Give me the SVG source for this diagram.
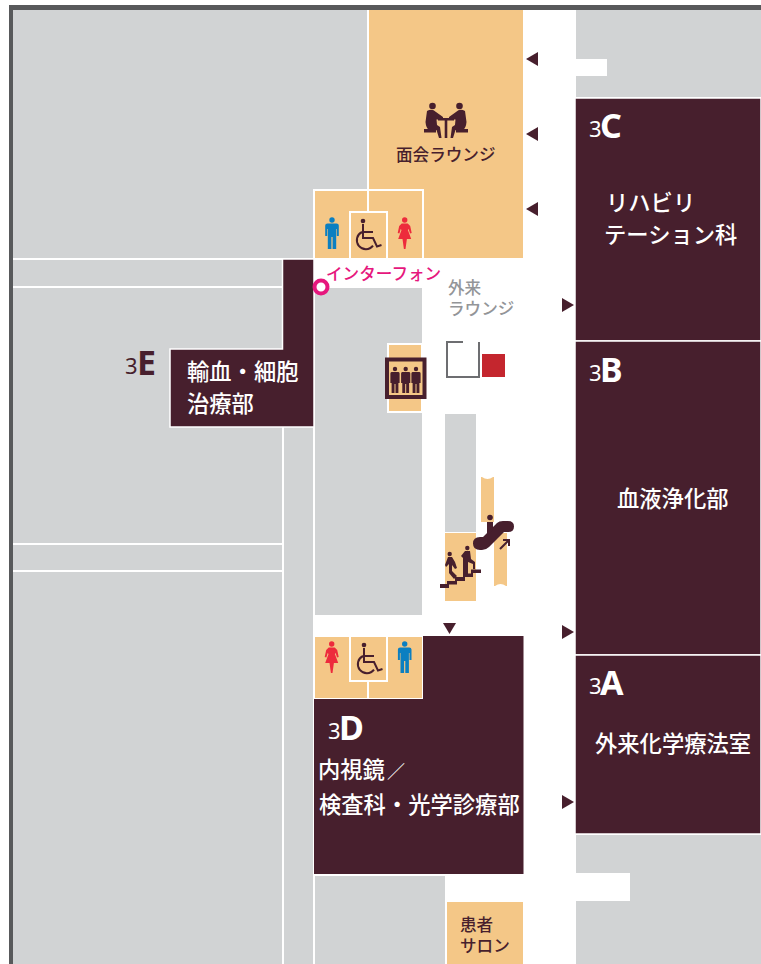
<svg xmlns="http://www.w3.org/2000/svg" width="761" height="964" viewBox="0 0 761 964">
<style>
.g{fill:#d1d3d4}
.o{fill:#f4c787}
.ow{fill:#f4c787;stroke:#fff;stroke-width:2}
.d{fill:#471f2d;stroke:#fff;stroke-width:1.500}
.ink{fill:#471f2d}
.t{font-family:"Noto Sans CJK JP","Noto Sans",sans-serif;font-weight:500}
.w{fill:#fff;font-size:22.300px}
.n{fill:#471f2d;font-size:16.600px}
.b{font-family:"Noto Sans","Liberation Sans",sans-serif;font-weight:700;font-size:34px;fill:#fff}
.s{font-family:"Noto Sans","Liberation Sans",sans-serif;font-size:22px;fill:#fff}
.blue{fill:#0b7fc1}
.red{fill:#ed2b3c}
</style>
<defs>
<g id="man"><circle cx="0" cy="-14" r="2.700"/><path d="M-4.500-10.500H4.500Q6.800-10.500 6.800-8.500V2H4.800V-5H4.200V15H.6V3H-.6V15H-4.200V-5H-4.800V2H-6.800V-8.500Q-6.800-10.500-4.500-10.500Z"/></g>
<g id="woman"><circle cx="0" cy="-14" r="2.700"/><path d="M-3-10.500H3L5.500-8 7-1 5.300-.5 4-5 3.200-4 6.500 5H2.200L.8 15H-.8L-2.200 5H-6.500L-3.200-4-4-5-5.300-.5-7-1-5.500-8Z"/></g>
<g id="wc"><circle cx="-5" cy="-14" r="2.300" fill="#471f2d"/><path d="M-5-11V3H5L9 11.500 13.500 10M-5-3H5" fill="none" stroke="#471f2d" stroke-width="2"/><path d="M-6-3A9 9 0 1 0 5 10.600" fill="none" stroke="#471f2d" stroke-width="2"/></g>
<g id="person"><circle cx="0" cy="-11" r="2.200"/><path d="M-3.500-8H3.500Q4.600-8 4.600-6.500V3H3.400V13H.5V4H-.5V13H-3.400V3H-4.600V-6.500Q-4.600-8-3.500-8Z"/></g>
<path id="tri" d="M0-7L12 0 0 7Z" class="ink"/>
</defs>

<g id="floor">
<rect x="9" y="5" width="752" height="5" fill="#58595b"/>
<rect x="9" y="5" width="4" height="959" fill="#58595b"/>
<rect class="g" x="13" y="10" width="354" height="248"/>
<rect class="g" x="13" y="260" width="269" height="26"/>
<rect class="g" x="13" y="288" width="269" height="255"/>
<rect class="g" x="13" y="545" width="269" height="25"/>
<rect class="g" x="13" y="572" width="269" height="392"/>
<rect class="g" x="284" y="427" width="29" height="537"/>
<rect class="g" x="315" y="288" width="107" height="327"/>
<rect class="g" x="445" y="414" width="31" height="118"/>
<rect class="g" x="315" y="876" width="130" height="88"/>
<path class="g" d="M576 10H761V97H576V76H607V59H576Z"/>
<path class="g" d="M576 835H761V964H576V901H630V873H576Z"/>
</g>

<g id="lounge"><rect class="o" x="369" y="10" width="154" height="248"/>
<g class="ink" id="lounge-icon">
<circle cx="432.500" cy="106" r="3.300"/><circle cx="459.500" cy="106" r="3.300"/>
<path d="M427 111Q432 108 436 112L443 117V119.500H436.500L437 125 440 127 441.500 138H439L436.500 130H429Q426 128 425.500 122Z"/>
<path d="M465 111Q460 108 456 112L449 117V119.500H455.500L455 125 452 127 450.500 138H453L455.500 130H463Q466 128 466.500 122Z"/>
<rect x="424" y="129" width="12" height="3.500"/><rect x="456" y="129" width="12" height="3.500"/>
<path d="M438 118H454V120.500H447.300V138H444.700V120.500H438Z"/>
</g>
<text class="t n" x="396" y="161">面会ラウンジ</text></g>

<g id="wc-top">
<rect class="ow" x="314" y="190" width="109" height="69"/>
<rect class="ow" x="350" y="212" width="37" height="47"/>
<path d="M368 190V212" stroke="#fff" stroke-width="2"/>
<use href="#man" x="332" y="234" class="blue"/>
<use href="#wc" x="368" y="235"/>
<use href="#woman" x="404.700" y="234" class="red"/>
</g>

<g id="elevator">
<rect class="o" x="388" y="344" width="34" height="68" stroke="#fff" stroke-width="2"/>
<rect x="387" y="359.500" width="37.500" height="37.500" fill="#f4c787" stroke="#471f2d" stroke-width="4"/>
<use href="#person" x="395" y="380" class="ink"/><use href="#person" x="405.700" y="380" class="ink"/><use href="#person" x="416" y="380" class="ink"/>
</g>

<g id="elevator-symbol">
<path d="M463 342H447V377H479V342" fill="none" stroke="#6d6e71" stroke-width="2"/>
<rect x="482" y="354" width="23" height="23" fill="#c4262e"/>
</g>

<g id="stairs">
<rect class="o" x="445" y="533" width="31" height="68"/>
<path class="o" d="M481 477H482Q487.500 481 493 477H494V522H481Z"/>
<path class="o" d="M494 533H507V586H506Q500.500 582 495 586H494Z"/>
<path class="ink" d="M440 584H447V581H455V577H463V573.500H471V569.500H481V573H473V577H465V581H457V584.500H449V588H440Z"/>
<g class="ink"><circle cx="449.700" cy="554" r="2.200"/><path d="M445 565L448 557H452L455 562 457 568 455 569 452 565 452 571 457 576 454 579 449 573V564L446 567Z"/>
<circle cx="467.300" cy="548" r="2.200"/><path d="M461 556L465 551H470L471 559 475 562V569H473V564L468 562V575H463V558Z"/></g>
<path class="ink" d="M473 543.500Q473 537 480 537H483L497 523Q499 521 503 521H508Q514 521 514 526.500 514 532 508 532H504L489 547Q486 550 482 550H480Q473 550 473 543.500Z"/>
<circle class="ink" cx="490" cy="517.500" r="2.800"/><path class="ink" d="M487 522H493V530L487 536Z"/>
<path d="M500 549L509 540M503 540H509V546" fill="none" stroke="#471f2d" stroke-width="2"/>
</g>

<g id="wc-bottom">
<rect class="ow" x="314" y="636" width="109" height="63"/>
<rect class="ow" x="350" y="636" width="37" height="45"/>
<path d="M368 681V699" stroke="#fff" stroke-width="2"/>
<use href="#woman" x="331.700" y="658" class="red"/>
<use href="#wc" x="369" y="659"/>
<use href="#man" x="404.700" y="658" class="blue"/>
</g>

<g id="salon"><rect class="o" x="447" y="902" width="76" height="62"/>
<text class="t n" x="460" y="931">患者</text><text class="t n" x="460" y="952">サロン</text></g>

<g id="room-3C"><rect class="d" x="575" y="98" width="186" height="243"/>
<text class="s" x="589" y="137">3</text><text class="b" x="600" y="138">C</text>
<text class="t w" x="606" y="211">リハビリ</text><text class="t w" x="604" y="243">テーション科</text></g>
<g id="room-3B"><rect class="d" x="575" y="341" width="186" height="314"/>
<text class="s" x="589" y="381">3</text><text class="b" x="600" y="382">B</text>
<text class="t w" x="617" y="507">血液浄化部</text></g>
<g id="room-3A"><rect class="d" x="575" y="655" width="186" height="179"/>
<text class="s" x="589" y="694">3</text><text class="b" x="600" y="695">A</text>
<text class="t w" x="595" y="752">外来化学療法室</text></g>
<g id="room-3D"><path class="ink" d="M423 636H523.500V874H314V699H423Z"/>
<text class="s" x="328" y="739">3</text><text class="b" x="339" y="740">D</text>
<text class="t w" x="318" y="778">内視鏡<tspan dx="2" font-size="18">／</tspan></text><text class="t w" x="319" y="813">検査科・光学診療部</text></g>
<g id="room-3E"><path class="d" d="M282.500 259H314V427H170V349H282.500Z"/>
<text class="s" x="125" y="374" style="fill:#471f2d">3</text><text class="b" x="137" y="375" style="fill:#471f2d">E</text>
<text class="t w" x="187" y="380">輸血・細胞</text><text class="t w" x="187" y="412">治療部</text></g>

<g id="labels">
<circle cx="321" cy="287" r="6.500" fill="#fff" stroke="#e6177d" stroke-width="4"/>
<text class="t" x="326" y="280" font-size="16.600" fill="#e6177d">インターフォン</text>
<text class="t" x="448" y="294" font-size="16.600" fill="#939598">外来</text>
<text class="t" x="448" y="315" font-size="16.600" fill="#939598">ラウンジ</text>
</g>

<g id="connectors">
<use href="#tri" transform="translate(538 59) rotate(180)"/>
<use href="#tri" transform="translate(538 134) rotate(180)"/>
<use href="#tri" transform="translate(538 209) rotate(180)"/>
<use href="#tri" x="562" y="305"/>
<use href="#tri" x="562" y="632"/>
<use href="#tri" x="562" y="802"/>
<path class="ink" d="M443 623H456L449.500 634Z"/>
</g>
</svg>
